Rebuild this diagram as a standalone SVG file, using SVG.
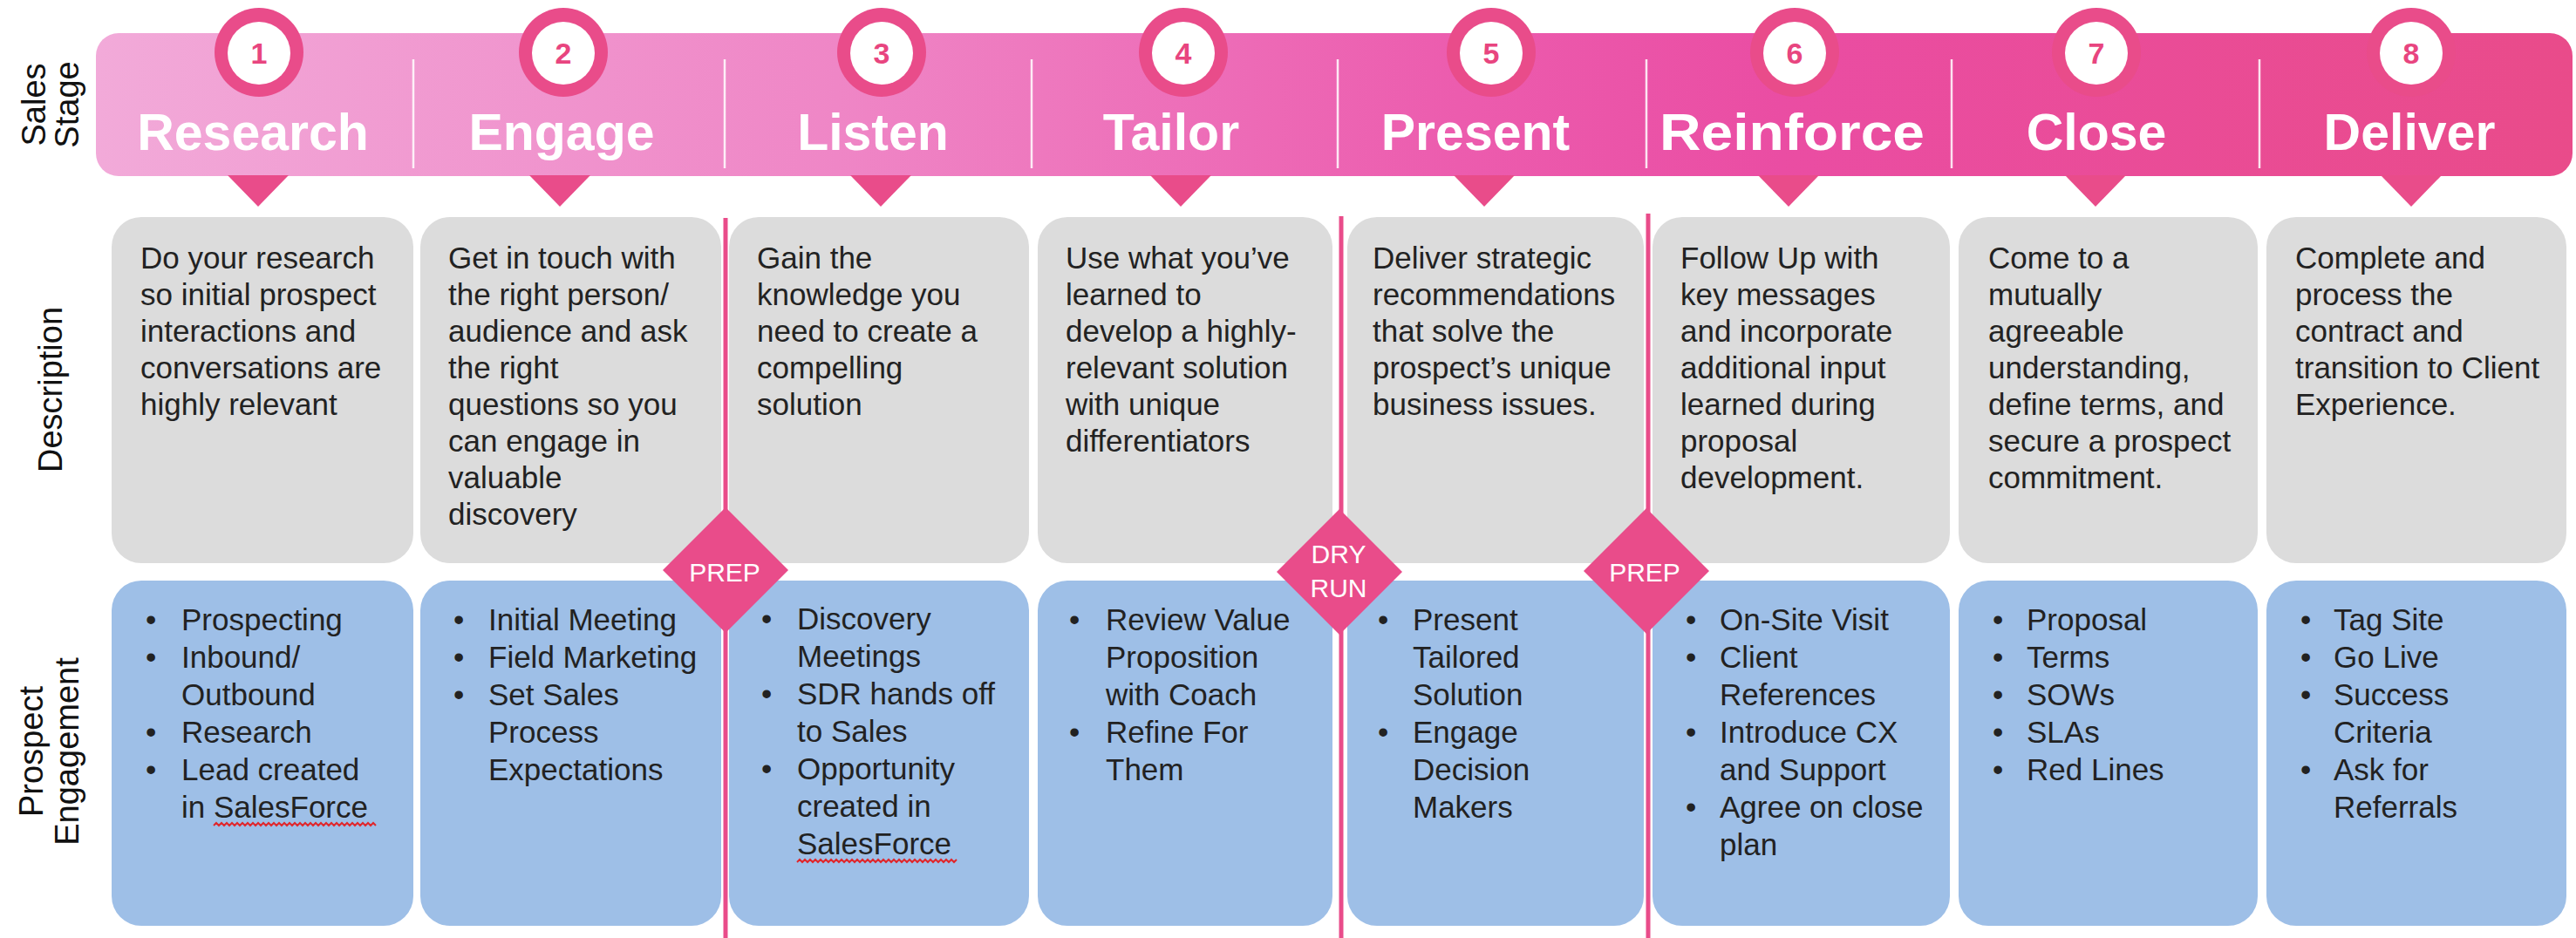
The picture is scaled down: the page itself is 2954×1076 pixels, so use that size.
<svg xmlns="http://www.w3.org/2000/svg" width="2954" height="1076" viewBox="0 0 2954 1076">
  <defs>
    <linearGradient id="bannerFill" gradientUnits="userSpaceOnUse" x1="110" y1="0" x2="2950" y2="0">
      <stop offset="0" stop-color="#f2aad9"/>
      <stop offset="0.3" stop-color="#ef86c6"/>
      <stop offset="0.55" stop-color="#ec5cae"/>
      <stop offset="0.68" stop-color="#ea4da3"/>
      <stop offset="1" stop-color="#e94b8a"/>
    </linearGradient>
    <style>
      text { font-family: "Liberation Sans", Arial, Helvetica, sans-serif; }
      .rowlabel { font-size: 38px; fill: #111; text-anchor: middle; }
      .stage { font-size: 59px; font-weight: bold; fill: #fff; text-anchor: middle; }
      .num { font-size: 34px; font-weight: bold; fill: #e8457f; text-anchor: middle; }
      .ring { fill: #e94c8a; }
      .hole { fill: #fff; }
      .pointer { fill: #e94c8a; }
      .divider { stroke: #ffffff; stroke-opacity: 0.85; stroke-width: 2.5; }
      .desc { fill: #dcdcdc; }
      .engage { fill: #9ebfe7; }
      .body { font-size: 35px; fill: #222; }
      .milestone-line { stroke: #e94c8a; stroke-width: 5; fill: none; }
      .milestone { fill: #e94c8a; }
      .milestone-text { font-size: 30px; fill: #fff; text-anchor: middle; }
      .squiggle { stroke: #e0262b; stroke-width: 2; fill: none; }
    </style>
  </defs>

  <rect width="2954" height="1076" fill="#ffffff"/>

  <!-- row labels -->
  <g id="label-sales-stage">
    <text class="rowlabel" transform="translate(0,120) rotate(-90)"><tspan x="0" y="52">Sales</tspan><tspan x="0" y="90">Stage</tspan></text>
  </g>
  <g id="label-description">
    <text class="rowlabel" transform="translate(0,447) rotate(-90)" x="0" y="71">Description</text>
  </g>
  <g id="label-prospect-engagement">
    <text class="rowlabel" transform="translate(0,862) rotate(-90)"><tspan x="0" y="49">Prospect</tspan><tspan x="0" y="90">Engagement</tspan></text>
  </g>

  <!-- stage banner -->
  <g id="banner">
    <rect x="110" y="38" width="2840" height="164" rx="26" fill="url(#bannerFill)"/>
    <line class="divider" x1="474" y1="68" x2="474" y2="193"/>
    <line class="divider" x1="831" y1="68" x2="831" y2="193"/>
    <line class="divider" x1="1183" y1="68" x2="1183" y2="193"/>
    <line class="divider" x1="1534" y1="68" x2="1534" y2="193"/>
    <line class="divider" x1="1888" y1="68" x2="1888" y2="193"/>
    <line class="divider" x1="2238" y1="68" x2="2238" y2="193"/>
    <line class="divider" x1="2591" y1="68" x2="2591" y2="193"/>
  </g>

  <!-- stage headers: numbered badge, name and pointer -->
  <g id="stage-1">
    <circle class="ring" cx="297" cy="60" r="51"/><circle class="hole" cx="297" cy="61" r="36"/>
    <text class="num" x="297" y="73">1</text>
    <text class="stage" x="290" y="172">Research</text>
    <polygon class="pointer" points="261,201 331,201 296,237"/>
  </g>
  <g id="stage-2">
    <circle class="ring" cx="646" cy="60" r="51"/><circle class="hole" cx="646" cy="61" r="36"/>
    <text class="num" x="646" y="73">2</text>
    <text class="stage" x="644" y="172">Engage</text>
    <polygon class="pointer" points="607,201 677,201 642,237"/>
  </g>
  <g id="stage-3">
    <circle class="ring" cx="1011" cy="60" r="51"/><circle class="hole" cx="1011" cy="61" r="36"/>
    <text class="num" x="1011" y="73">3</text>
    <text class="stage" x="1001" y="172">Listen</text>
    <polygon class="pointer" points="975,201 1045,201 1010,237"/>
  </g>
  <g id="stage-4">
    <circle class="ring" cx="1357" cy="60" r="51"/><circle class="hole" cx="1357" cy="61" r="36"/>
    <text class="num" x="1357" y="73">4</text>
    <text class="stage" x="1343" y="172">Tailor</text>
    <polygon class="pointer" points="1319,201 1389,201 1354,237"/>
  </g>
  <g id="stage-5">
    <circle class="ring" cx="1710" cy="60" r="51"/><circle class="hole" cx="1710" cy="61" r="36"/>
    <text class="num" x="1710" y="73">5</text>
    <text class="stage" x="1692" y="172">Present</text>
    <polygon class="pointer" points="1667,201 1737,201 1702,237"/>
  </g>
  <g id="stage-6">
    <circle class="ring" cx="2058" cy="60" r="51"/><circle class="hole" cx="2058" cy="61" r="36"/>
    <text class="num" x="2058" y="73">6</text>
    <text class="stage" x="2055" y="172" textLength="304" lengthAdjust="spacingAndGlyphs">Reinforce</text>
    <polygon class="pointer" points="2016,201 2086,201 2051,237"/>
  </g>
  <g id="stage-7">
    <circle class="ring" cx="2404" cy="60" r="51"/><circle class="hole" cx="2404" cy="61" r="36"/>
    <text class="num" x="2404" y="73">7</text>
    <text class="stage" x="2404" y="172">Close</text>
    <polygon class="pointer" points="2368,201 2438,201 2403,237"/>
  </g>
  <g id="stage-8">
    <circle class="ring" cx="2765" cy="60" r="51"/><circle class="hole" cx="2765" cy="61" r="36"/>
    <text class="num" x="2765" y="73">8</text>
    <text class="stage" x="2763" y="172">Deliver</text>
    <polygon class="pointer" points="2730,201 2800,201 2765,237"/>
  </g>

  <!-- description cards -->
  <g id="desc-1">
    <rect class="desc" x="128" y="249" width="346" height="397" rx="34"/>
    <text class="body"><tspan x="161" y="308">Do your research</tspan><tspan x="161" y="350">so initial prospect</tspan><tspan x="161" y="392">interactions and</tspan><tspan x="161" y="434">conversations are</tspan><tspan x="161" y="476">highly relevant</tspan></text>
  </g>
  <g id="desc-2">
    <rect class="desc" x="482" y="249" width="345" height="397" rx="34"/>
    <text class="body"><tspan x="514" y="308">Get in touch with</tspan><tspan x="514" y="350">the right person/</tspan><tspan x="514" y="392">audience and ask</tspan><tspan x="514" y="434">the right</tspan><tspan x="514" y="476">questions so you</tspan><tspan x="514" y="518">can engage in</tspan><tspan x="514" y="560">valuable</tspan><tspan x="514" y="602">discovery</tspan></text>
  </g>
  <g id="desc-3">
    <rect class="desc" x="836" y="249" width="344" height="397" rx="34"/>
    <text class="body"><tspan x="868" y="308">Gain the</tspan><tspan x="868" y="350">knowledge you</tspan><tspan x="868" y="392">need to create a</tspan><tspan x="868" y="434">compelling</tspan><tspan x="868" y="476">solution</tspan></text>
  </g>
  <g id="desc-4">
    <rect class="desc" x="1190" y="249" width="338" height="397" rx="34"/>
    <text class="body"><tspan x="1222" y="308">Use what you’ve</tspan><tspan x="1222" y="350">learned to</tspan><tspan x="1222" y="392">develop a highly-</tspan><tspan x="1222" y="434">relevant solution</tspan><tspan x="1222" y="476">with unique</tspan><tspan x="1222" y="518">differentiators</tspan></text>
  </g>
  <g id="desc-5">
    <rect class="desc" x="1545" y="249" width="340" height="397" rx="34"/>
    <text class="body"><tspan x="1574" y="308">Deliver strategic</tspan><tspan x="1574" y="350">recommendations</tspan><tspan x="1574" y="392">that solve the</tspan><tspan x="1574" y="434">prospect’s unique</tspan><tspan x="1574" y="476">business issues.</tspan></text>
  </g>
  <g id="desc-6">
    <rect class="desc" x="1895" y="249" width="341" height="397" rx="34"/>
    <text class="body"><tspan x="1927" y="308">Follow Up with</tspan><tspan x="1927" y="350">key messages</tspan><tspan x="1927" y="392">and incorporate</tspan><tspan x="1927" y="434">additional input</tspan><tspan x="1927" y="476">learned during</tspan><tspan x="1927" y="518">proposal</tspan><tspan x="1927" y="560">development.</tspan></text>
  </g>
  <g id="desc-7">
    <rect class="desc" x="2246" y="249" width="343" height="397" rx="34"/>
    <text class="body"><tspan x="2280" y="308">Come to a</tspan><tspan x="2280" y="350">mutually</tspan><tspan x="2280" y="392">agreeable</tspan><tspan x="2280" y="434">understanding,</tspan><tspan x="2280" y="476">define terms, and</tspan><tspan x="2280" y="518">secure a prospect</tspan><tspan x="2280" y="560">commitment.</tspan></text>
  </g>
  <g id="desc-8">
    <rect class="desc" x="2599" y="249" width="344" height="397" rx="34"/>
    <text class="body"><tspan x="2632" y="308">Complete and</tspan><tspan x="2632" y="350">process the</tspan><tspan x="2632" y="392">contract and</tspan><tspan x="2632" y="434">transition to Client</tspan><tspan x="2632" y="476">Experience.</tspan></text>
  </g>

  <!-- prospect engagement cards -->
  <g id="engage-1">
    <rect class="engage" x="128" y="666" width="346" height="396" rx="34"/>
    <text class="body"><tspan x="167" y="723">•</tspan><tspan x="208" y="723">Prospecting</tspan><tspan x="167" y="766">•</tspan><tspan x="208" y="766">Inbound/</tspan><tspan x="208" y="809">Outbound</tspan><tspan x="167" y="852">•</tspan><tspan x="208" y="852">Research</tspan><tspan x="167" y="895">•</tspan><tspan x="208" y="895">Lead created</tspan><tspan x="208" y="938">in SalesForce</tspan></text>
    <path class="squiggle" d="M245,947 l3,-3 l3,3 l3,-3 l3,3 l3,-3 l3,3 l3,-3 l3,3 l3,-3 l3,3 l3,-3 l3,3 l3,-3 l3,3 l3,-3 l3,3 l3,-3 l3,3 l3,-3 l3,3 l3,-3 l3,3 l3,-3 l3,3 l3,-3 l3,3 l3,-3 l3,3 l3,-3 l3,3 l3,-3 l3,3 l3,-3 l3,3 l3,-3 l3,3 l3,-3 l3,3 l3,-3 l3,3 l3,-3 l3,3 l3,-3 l3,3 l3,-3 l3,3 l3,-3 l3,3 l3,-3 l3,3 l3,-3 l3,3 l3,-3 l3,3 l3,-3 l3,3 l3,-3 l3,3 l3,-3 l3,3 l3,-3 l3,3"/>
  </g>
  <g id="engage-2">
    <rect class="engage" x="482" y="666" width="345" height="396" rx="34"/>
    <text class="body"><tspan x="520" y="723">•</tspan><tspan x="560" y="723">Initial Meeting</tspan><tspan x="520" y="766">•</tspan><tspan x="560" y="766">Field Marketing</tspan><tspan x="520" y="809">•</tspan><tspan x="560" y="809">Set Sales</tspan><tspan x="560" y="852">Process</tspan><tspan x="560" y="895">Expectations</tspan></text>
  </g>
  <g id="engage-3">
    <rect class="engage" x="836" y="666" width="344" height="396" rx="34"/>
    <text class="body"><tspan x="873" y="722">•</tspan><tspan x="914" y="722">Discovery</tspan><tspan x="914" y="765">Meetings</tspan><tspan x="873" y="808">•</tspan><tspan x="914" y="808">SDR hands off</tspan><tspan x="914" y="851">to Sales</tspan><tspan x="873" y="894">•</tspan><tspan x="914" y="894">Opportunity</tspan><tspan x="914" y="937">created in</tspan><tspan x="914" y="980">SalesForce</tspan></text>
    <path class="squiggle" d="M914,989 l3,-3 l3,3 l3,-3 l3,3 l3,-3 l3,3 l3,-3 l3,3 l3,-3 l3,3 l3,-3 l3,3 l3,-3 l3,3 l3,-3 l3,3 l3,-3 l3,3 l3,-3 l3,3 l3,-3 l3,3 l3,-3 l3,3 l3,-3 l3,3 l3,-3 l3,3 l3,-3 l3,3 l3,-3 l3,3 l3,-3 l3,3 l3,-3 l3,3 l3,-3 l3,3 l3,-3 l3,3 l3,-3 l3,3 l3,-3 l3,3 l3,-3 l3,3 l3,-3 l3,3 l3,-3 l3,3 l3,-3 l3,3 l3,-3 l3,3 l3,-3 l3,3 l3,-3 l3,3 l3,-3 l3,3 l3,-3"/>
  </g>
  <g id="engage-4">
    <rect class="engage" x="1190" y="666" width="338" height="396" rx="34"/>
    <text class="body"><tspan x="1226" y="723">•</tspan><tspan x="1268" y="723">Review Value</tspan><tspan x="1268" y="766">Proposition</tspan><tspan x="1268" y="809">with Coach</tspan><tspan x="1226" y="852">•</tspan><tspan x="1268" y="852">Refine For</tspan><tspan x="1268" y="895">Them</tspan></text>
  </g>
  <g id="engage-5">
    <rect class="engage" x="1545" y="666" width="340" height="396" rx="34"/>
    <text class="body"><tspan x="1580" y="723">•</tspan><tspan x="1620" y="723">Present</tspan><tspan x="1620" y="766">Tailored</tspan><tspan x="1620" y="809">Solution</tspan><tspan x="1580" y="852">•</tspan><tspan x="1620" y="852">Engage</tspan><tspan x="1620" y="895">Decision</tspan><tspan x="1620" y="938">Makers</tspan></text>
  </g>
  <g id="engage-6">
    <rect class="engage" x="1895" y="666" width="341" height="396" rx="34"/>
    <text class="body"><tspan x="1933" y="723">•</tspan><tspan x="1972" y="723">On-Site Visit</tspan><tspan x="1933" y="766">•</tspan><tspan x="1972" y="766">Client</tspan><tspan x="1972" y="809">References</tspan><tspan x="1933" y="852">•</tspan><tspan x="1972" y="852">Introduce CX</tspan><tspan x="1972" y="895">and Support</tspan><tspan x="1933" y="938">•</tspan><tspan x="1972" y="938">Agree on close</tspan><tspan x="1972" y="981">plan</tspan></text>
  </g>
  <g id="engage-7">
    <rect class="engage" x="2246" y="666" width="343" height="396" rx="34"/>
    <text class="body"><tspan x="2285" y="723">•</tspan><tspan x="2324" y="723">Proposal</tspan><tspan x="2285" y="766">•</tspan><tspan x="2324" y="766">Terms</tspan><tspan x="2285" y="809">•</tspan><tspan x="2324" y="809">SOWs</tspan><tspan x="2285" y="852">•</tspan><tspan x="2324" y="852">SLAs</tspan><tspan x="2285" y="895">•</tspan><tspan x="2324" y="895">Red Lines</tspan></text>
  </g>
  <g id="engage-8">
    <rect class="engage" x="2599" y="666" width="344" height="396" rx="34"/>
    <text class="body"><tspan x="2638" y="723">•</tspan><tspan x="2676" y="723">Tag Site</tspan><tspan x="2638" y="766">•</tspan><tspan x="2676" y="766">Go Live</tspan><tspan x="2638" y="809">•</tspan><tspan x="2676" y="809">Success</tspan><tspan x="2676" y="852">Criteria</tspan><tspan x="2638" y="895">•</tspan><tspan x="2676" y="895">Ask for</tspan><tspan x="2676" y="938">Referrals</tspan></text>
  </g>

  <!-- milestone markers between stages -->
  <g id="connectors">
    <line class="milestone-line" x1="832" y1="250" x2="832" y2="1076"/>
    <line class="milestone-line" x1="1538" y1="248" x2="1538" y2="1076"/>
    <line class="milestone-line" x1="1890" y1="245" x2="1890" y2="1076"/>
  </g>
  <g id="milestone-prep-1">
    <polygon class="milestone" points="832,582 904,654 832,726 760,654"/>
    <text class="milestone-text" x="831" y="667">PREP</text>
  </g>
  <g id="milestone-dry-run">
    <polygon class="milestone" points="1536,584 1608,656 1536,728 1464,656"/>
    <text class="milestone-text"><tspan x="1535" y="646">DRY</tspan><tspan x="1535" y="685">RUN</tspan></text>
  </g>
  <g id="milestone-prep-2">
    <polygon class="milestone" points="1888,583 1960,655 1888,727 1816,655"/>
    <text class="milestone-text" x="1886" y="667">PREP</text>
  </g>
</svg>
